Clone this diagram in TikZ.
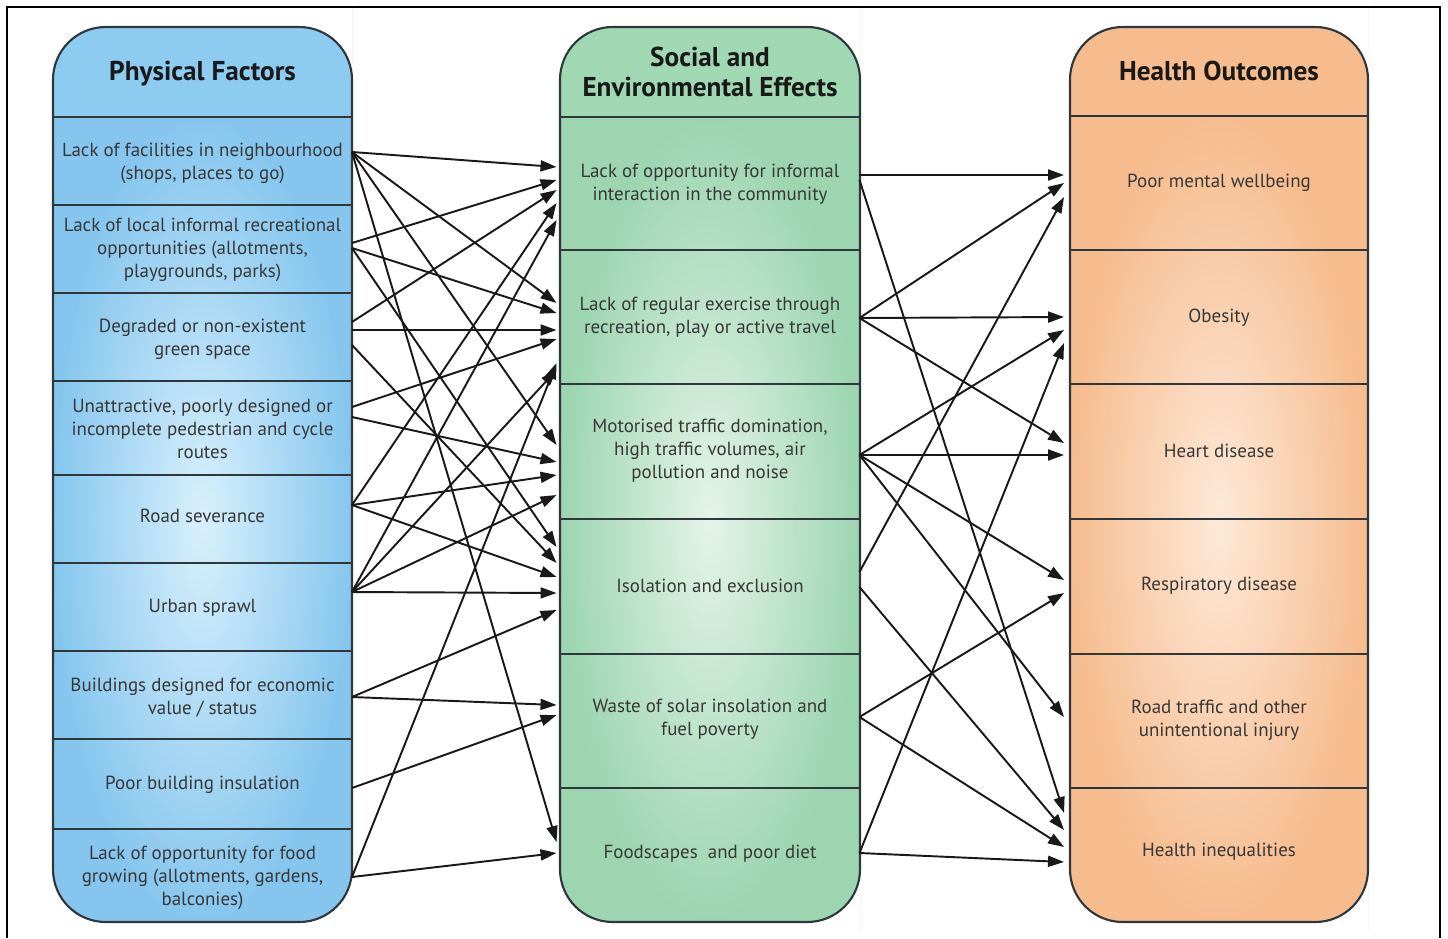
\documentclass[tikz,border=0pt]{standalone}
\usepackage{fontspec}
\setmainfont{PT Sans}
\usetikzlibrary{arrows.meta,calc}

\definecolor{pfhead}{RGB}{141,203,240}
\definecolor{pfouter}{RGB}{134,198,238}
\definecolor{pfinner}{RGB}{216,240,252}
\definecolor{sehead}{RGB}{160,216,180}
\definecolor{seouter}{RGB}{156,213,176}
\definecolor{seinner}{RGB}{228,244,233}
\definecolor{hohead}{RGB}{247,188,142}
\definecolor{hoouter}{RGB}{246,188,142}
\definecolor{hoinner}{RGB}{253,233,216}
\definecolor{edgegray}{RGB}{45,55,60}
\definecolor{textgray}{RGB}{55,55,55}

\tikzset{every path/.style={line width=1pt}}
\tikzset{
  cell/.style={minimum width=5.98cm, inner sep=0pt, outer sep=0pt, align=center,
    text=textgray, font=\fontsize{10.8}{13}\selectfont},
  headtext/.style={align=center, font=\bfseries\fontsize{15.5}{17}\selectfont, text=black!90},
  link/.style={-{Triangle[length=3.2mm,width=2.2mm]}, black!90, line width=1.1pt}
}

\begin{document}
\begin{tikzpicture}[x=0.02cm,y=-0.02cm]
\useasboundingbox (0,0) rectangle (1448,938);
\draw[line width=1.3pt] (7,938) -- (7,7) -- (1440,7) -- (1440,938);

\fill[pfhead] (53,117) [rounded corners=30] -- (53,27) -- (352,27) -- (352,60) [sharp corners] -- (352,117) -- cycle;
\shade[inner color=pfinner, outer color=pfouter] (53,117) [rounded corners=30] -- (53,922) -- (352,922) -- (352,880) [sharp corners] -- (352,117) -- cycle;
\fill[sehead] (560,117) [rounded corners=30] -- (560,27) -- (860,27) -- (860,60) [sharp corners] -- (860,117) -- cycle;
\shade[inner color=seinner, outer color=seouter] (560,117) [rounded corners=30] -- (560,922) -- (860,922) -- (860,880) [sharp corners] -- (860,117) -- cycle;
\fill[hohead] (1070,116) [rounded corners=30] -- (1070,27) -- (1368,27) -- (1368,60) [sharp corners] -- (1368,116) -- cycle;
\shade[inner color=hoinner, outer color=hoouter] (1070,116) [rounded corners=30] -- (1070,922) -- (1368,922) -- (1368,880) [sharp corners] -- (1368,116) -- cycle;

\draw[edgegray, line width=1.2pt, rounded corners=30] (53,27) rectangle (352,922);
\draw[edgegray, line width=1.2pt, rounded corners=30] (560,27) rectangle (860,922);
\draw[edgegray, line width=1.2pt, rounded corners=30] (1070,27) rectangle (1368,922);
\foreach \y in {117,205,293,381,475,563,651,739,829}
  \draw[edgegray] (53,\y) -- (352,\y);
\foreach \y in {117,250,384,519,654,788}
  \draw[edgegray] (560,\y) -- (860,\y);
\foreach \y in {116,250,384,519,654,788}
  \draw[edgegray] (1070,\y) -- (1368,\y);

\node[headtext] (pfh) at (202.5,74) {Physical Factors};
\node[headtext] (seh) at (710,72) {Social and\\Environmental Effects};
\node[headtext] (hoh) at (1219,71) {Health Outcomes};

\node[cell] (pf1) at (202.5,163) {Lack of facilities in neighbourhood\\(shops, places to go)};
\node[cell] (pf2) at (202.5,250) {Lack of local informal recreational\\opportunities (allotments,\\playgrounds, parks)};
\node[cell] (pf3) at (202.5,339) {Degraded or non-existent\\green space};
\node[cell] (pf4) at (202.5,429) {Unattractive, poorly designed or\\incomplete pedestrian and cycle\\routes};
\node[cell] (pf5) at (202.5,516) {Road severance};
\node[cell] (pf6) at (202.5,608) {Urban sprawl};
\node[cell] (pf7) at (202.5,698) {Buildings designed for economic\\value / status};
\node[cell] (pf8) at (202.5,785) {Poor building insulation};
\node[cell] (pf9) at (202.5,878) {Lack of opportunity for food\\growing (allotments, gardens,\\balconies)};

\node[cell] (se1) at (710,184) {Lack of opportunity for informal\\interaction in the community};
\node[cell] (se2) at (710,317) {Lack of regular exercise through\\recreation, play or active travel};
\node[cell] (se3) at (710,451) {Motorised traffic domination,\\high traffic volumes, air\\pollution and noise};
\node[cell] (se4) at (710,586) {Isolation and exclusion};
\node[cell] (se5) at (710,719) {Waste of solar insolation and\\fuel poverty};
\node[cell] (se6) at (710,854) {Foodscapes~ and poor diet};

\node[cell, minimum width=5.96cm] (ho1) at (1219,183) {Poor mental wellbeing};
\node[cell, minimum width=5.96cm] (ho2) at (1219,318) {Obesity};
\node[cell, minimum width=5.96cm] (ho3) at (1219,451) {Heart disease};
\node[cell, minimum width=5.96cm] (ho4) at (1219,586) {Respiratory disease};
\node[cell, minimum width=5.96cm] (ho5) at (1219,720) {Road traffic and other\\unintentional injury};
\node[cell, minimum width=5.96cm] (ho6) at (1219,852) {Health inequalities};

\draw[link] ($(pf1.east)+(0,-11)$) -- ($(se1.west)+(-4,-17)$);
\draw[link] ($(pf1.east)+(0,-11)$) -- ($(se2.west)+(-4,-14)$);
\draw[link] ($(pf1.east)+(0,-11)$) -- ($(se3.west)+(-4,-6)$);
\draw[link] ($(pf1.east)+(0,-11)$) -- ($(se6.west)+(-4,-12)$);
\draw[link] ($(pf2.east)+(0,-7)$) -- ($(se1.west)+(-4,-4)$);
\draw[link] ($(pf2.east)+(0,-2)$) -- ($(se2.west)+(-4,-4)$);
\draw[link] ($(pf2.east)+(0,-2)$) -- ($(se4.west)+(-4,-39)$);
\draw[link] ($(pf3.east)+(0,-17)$) -- ($(se1.west)+(-4,6)$);
\draw[link] ($(pf3.east)+(0,-9)$) -- ($(se2.west)+(-4,13)$);
\draw[link] ($(pf3.east)+(0,6)$) -- ($(se4.west)+(-4,-23)$);
\draw[link] ($(pf4.east)+(0,-22)$) -- ($(se2.west)+(-4,22)$);
\draw[link] ($(pf4.east)+(0,-12)$) -- ($(se3.west)+(-4,11)$);
\draw[link] ($(pf5.east)+(0,-11)$) -- ($(se1.west)+(-4,19)$);
\draw[link] ($(pf5.east)+(0,-11)$) -- ($(se3.west)+(-4,24)$);
\draw[link] ($(pf5.east)+(0,-11)$) -- ($(se4.west)+(-4,-9)$);
\draw[link] ($(pf6.east)+(0,-16)$) -- ($(se1.west)+(-4,36)$);
\draw[link] ($(pf6.east)+(0,-16)$) -- ($(se2.west)+(-4,53)$);
\draw[link] ($(pf6.east)+(0,-16)$) -- ($(se3.west)+(-4,44)$);
\draw[link] ($(pf6.east)+(0,-16)$) -- ($(se4.west)+(-4,7)$);
\draw[link] ($(pf7.east)+(0,-1)$) -- ($(se4.west)+(-4,24)$);
\draw[link] ($(pf7.east)+(0,-1)$) -- ($(se5.west)+(-4,-14)$);
\draw[link] ($(pf8.east)+(0,3)$) -- ($(se5.west)+(-4,-4)$);
\draw[link] ($(pf9.east)+(0,-1)$) -- ($(se2.west)+(-4,46)$);
\draw[link] ($(pf9.east)+(0,-1)$) -- ($(se6.west)+(-4,-1)$);

\draw[link] ($(se1.east)+(0,-9)$) -- ($(ho1.west)+(-6,-8)$);
\draw[link] ($(se1.east)+(0,-4)$) -- ($(ho6.west)+(-6,-39)$);
\draw[link] ($(se2.east)+(0,1)$) -- ($(ho1.west)+(-6,0)$);
\draw[link] ($(se2.east)+(0,1)$) -- ($(ho2.west)+(-6,-1)$);
\draw[link] ($(se2.east)+(0,1)$) -- ($(ho3.west)+(-6,-8)$);
\draw[link] ($(se3.east)+(0,4)$) -- ($(ho2.west)+(-6,12)$);
\draw[link] ($(se3.east)+(0,4)$) -- ($(ho3.west)+(-6,4)$);
\draw[link] ($(se3.east)+(0,4)$) -- ($(ho4.west)+(-6,-6)$);
\draw[link] ($(se3.east)+(0,4)$) -- ($(ho5.west)+(-6,-3)$);
\draw[link] ($(se4.east)+(0,-14)$) -- ($(ho1.west)+(-6,14)$);
\draw[link] ($(se4.east)+(0,1)$) -- ($(ho6.west)+(-6,-22)$);
\draw[link] ($(se5.east)+(0,-2)$) -- ($(ho4.west)+(-6,7)$);
\draw[link] ($(se5.east)+(0,-2)$) -- ($(ho6.west)+(-6,-5)$);
\draw[link] ($(se6.east)+(0,-1)$) -- ($(ho2.west)+(-6,25)$);
\draw[link] ($(se6.east)+(0,-1)$) -- ($(ho6.west)+(-6,10)$);
\end{tikzpicture}
\end{document}
